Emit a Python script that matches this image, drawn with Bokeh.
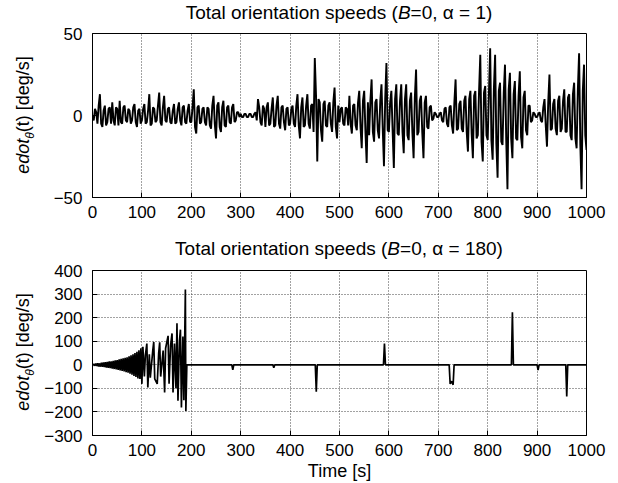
from bokeh.plotting import figure
from bokeh.layouts import column, row
from bokeh.models import Range1d, FixedTicker, Div
from bokeh.embed import file_html
from bokeh.resources import INLINE

FONT = "Liberation Sans"

x_ticks = [0, 100, 200, 300, 400, 500, 600, 700, 800, 900, 1000]
top_y_ticks = [-50, 0, 50]
bot_y_ticks = [-300, -200, -100, 0, 100, 200, 300, 400]
top_title_html = "Total orientation speeds (<i>B</i>=0, \u03b1 = 1)"
bot_title_html = "Total orientation speeds (<i>B</i>=0, \u03b1 = 180)"
x_label = "Time [s]"
y_label_html = '<i>edot</i><sub style="font-size:12px;font-style:italic;">\u03b8</sub>(t) [deg/s]'

# top series: values at t = 0, 5, 10, ... (top_v) and t = 2.5, 7.5, ... (top_v_mid)
top_v = (
    [0, 4, -5, 13, -7, 6, -4, 5, 8, -6, 4, 9, -5, 6, -4, 3, -3, 7, -7, 4]
    + [-3, 7, -4, 13, -5, 4, -3, 14, -6, 12, -4, 5, -5, 7, -4, 8, -6, 6, -5, 7]
    + [-4, 16, -11, 6, -4, 5, -6, 4, -8, 12, -14, 8, -10, 9, -7, 6, -5, 7, -3, 2]
    + [1, -1, 1, -1, 1, -1, 2, 10, -4, 6, -7, 8, -5, 11, -6, 12, -8, 6, -9, 5]
    + [-5, 6, -7, 13, -14, 11, -6, 13, -8, 7, 35, -28, 8, -16, 9, -7, 8, -10, 17, -14]
    + [-4, 5, -6, 4, 12, -11, 7, -9, 15, -20, 15, -29, -12, 22, -16, 10, -14, 19, -31, 32]
    + [-10, 15, -32, 19, -12, 19, -23, 19, -15, 14, -26, 28, -10, 12, -26, 12, -8, 6, -2, 1]
    + [-1, 2, -4, 5, -7, 6, -11, 22, -8, 9, -10, 12, -22, 15, -26, 15, -12, 37, -28, 18]
    + [-15, 41, -27, 37, -38, 20, -18, 31, -45, 26, -26, 21, -15, 27, -20, 15, -12, 6, -3, 1]
    + [-1, 2, -4, 10, -19, 25, -8, 10, -12, 12, -8, 16, -10, 13, -15, 20, -20, 38, -45, 31, -21]
)
top_v_mid = (
    [-3, 2, 6, -5, 3, -6, 4, -5, -3, 5, -6, -4, 5, -3, 4, -5, 5, -4, 3, -5]
    + [4, -5, 3, -6, 5, -4, 6, -4, 5, -3, 4, -4, 3, -5, 4, -3, 5, -4, 3, -4]
    + [5, -7, 5, -5, 4, -4, 5, -6, 6, -5, 6, -7, 5, -6, 5, -4, 5, -4, 2, -1]
    + [-1, 1, -1, 1, -1, 1, -3, 5, -6, 4, 5, -6, 4, -7, 6, -5, 5, -4, 4, -6]
    + [4, -5, 6, -6, 5, -7, 6, -5, 6, -10, 12, 10, -9, 7, -6, 6, -5, 8, -7, 6]
    + [4, -5, 5, -6, -5, 6, -6, 8, -7, 9, -10, 8, 9, -10, 8, -9, 9, -8, 10, -9]
    + [8, -9, 10, -11, 9, -10, 10, -12, 9, -10, 11, -12, 9, -10, 8, -7, 5, -3, 2, -1]
    + [1, -3, 4, -5, 5, -6, 8, -9, 7, -8, 9, -10, 10, -11, 12, -14, 15, -16, 14, -12]
    + [14, -15, 16, -17, 15, -16, 14, -15, 16, -14, 13, -14, 12, -13, 11, -9, 6, -4, 2, -1]
    + [1, -3, 5, -6, 8, -9, 7, -8, 9, -10, 9, -10, 11, -12, 13, -14, 16, -18, 15, -12]
)

# bottom series: growing oscillation (every 2 s up to 98 s), then spikes
bot_t_osc = list(range(0, 100, 2))
bot_v_osc = [0, 3, -4, 5, -5, 6, -7, 6, -8, 9, -9, 10, -10, 11, -12, 12, -13, 14, -14, 15,
             -16, 17, -18, 19, -20, 20, -22, 23, -24, 25, -26, 27, -28, 30, -31, 32, -34, 36,
             -38, 40, -42, 45, -47, 50, -52, 55, -58, 62, -60, 70]
bot_t_rest = [100, 102, 105, 107, 110, 112, 115, 117, 122, 124, 126, 131, 134, 136, 138,
              143, 146, 148, 153, 155, 158, 161, 163, 166, 169, 171, 173, 176, 178, 180,
              183, 185, 188, 189, 191,
              200, 282, 284, 286, 365, 367, 369, 451, 453, 455, 589, 591, 593,
              722, 724, 727, 730, 732, 848, 850, 852, 900, 902, 904, 958, 960, 962, 1000]
bot_v_rest = [-81, 76, -50, 40, 90, -96, 45, -55, 60, 97, -60, -81, 50, 95, -50,
              60, -117, 70, 123, -80, 80, 133, -117, 90, -100, 176, -153, 100, 149, -181,
              120, -150, 319, -196, 0,
              0, 0, -21, 0, 0, -12, 0, 0, -114, 0, 0, 90, 0,
              0, -81, -70, -85, 0, 0, 223, 0, 0, -23, 0, 0, -134, 0, 0]

# merge the two interleaved top samplings
top_t, top_y = [], []
for k, v in enumerate(top_v):
    top_t.append(5 * k)
    top_y.append(v)
    if k < len(top_v_mid):
        top_t.append(5 * k + 2.5)
        top_y.append(top_v_mid[k])

bot_t = bot_t_osc + bot_t_rest
bot_v = bot_v_osc + bot_v_rest

W = 618
LABEL_W = 40
FRAME_CX = 339  # page x of the frame centre


def make_fig(y0, y1, yticks, h, btop, bbot, ygrid):
    p = figure(width=W - LABEL_W, height=h, output_backend="svg", toolbar_location=None,
               x_range=Range1d(0, 1000), y_range=Range1d(y0, y1), title=None,
               min_border_left=92 - LABEL_W, min_border_right=32,
               min_border_top=btop, min_border_bottom=bbot)
    p.outline_line_color = "black"
    p.outline_line_width = 1
    for ax in (p.xaxis[0], p.yaxis[0]):
        ax.major_label_text_font = FONT
        ax.major_label_text_font_size = "17px"
        ax.major_label_text_color = "black"
        ax.major_tick_in = 5
        ax.major_tick_out = 0
        ax.minor_tick_line_color = None
        ax.axis_line_color = "black"
    p.xaxis[0].major_label_standoff = 8
    p.yaxis[0].major_label_standoff = 10
    p.xaxis[0].ticker = FixedTicker(ticks=x_ticks)
    p.yaxis[0].ticker = FixedTicker(ticks=yticks)
    p.xgrid.ticker = FixedTicker(ticks=x_ticks)
    p.xgrid.grid_line_color = "#444444"
    p.xgrid.grid_line_dash = "1 2"
    p.xgrid.grid_line_width = 1
    if ygrid:
        p.ygrid.ticker = FixedTicker(ticks=yticks)
        p.ygrid.grid_line_color = "#444444"
        p.ygrid.grid_line_dash = "1 2"
        p.ygrid.grid_line_width = 1
    else:
        p.ygrid.grid_line_color = None
    return p


def make_title_div(h, cy, html_text):
    html = (
        f'<div style="position:relative;width:{W}px;height:{h}px;">'
        f'<span style="position:absolute;left:{FRAME_CX}px;top:{cy}px;'
        'transform:translate(-50%,-50%);white-space:nowrap;'
        "font-family:'Liberation Sans',Arial,sans-serif;font-size:19px;color:black;"
        f'line-height:1.2;">{html_text}</span></div>'
    )
    return Div(text=html, width=W, height=h, margin=0)


def make_label_div(h, cy):
    html = (
        f'<div style="position:relative;width:{LABEL_W}px;height:{h}px;overflow:visible;">'
        f'<span style="position:absolute;left:25px;top:{cy}px;'
        'transform:translate(-50%,-50%) rotate(-90deg);white-space:nowrap;'
        "font-family:'Liberation Sans',Arial,sans-serif;font-size:18px;color:black;"
        f'line-height:1.2;">{y_label_html}</span></div>'
    )
    return Div(text=html, width=LABEL_W, height=h, margin=0)


# top panel: page rows 0-23 title, 23-232 plot (frame 33-197)
t1 = make_title_div(23, 12.5, top_title_html)
p1 = make_fig(-50, 50, top_y_ticks, 209, 10, 35, False)
p1.line(top_t, top_y, line_color="black", line_width=1.9)
d1 = make_label_div(209, 115 - 23)

# bottom panel: page rows 232-260 title, 260-483 plot (frame 270-435)
t2 = make_title_div(28, 17, bot_title_html)
p2 = make_fig(-300, 400, bot_y_ticks, 223, 10, 48, True)
p2.line(bot_t, bot_v, line_color="black", line_width=1.7)
p2.xaxis[0].axis_label = x_label
p2.xaxis[0].axis_label_text_font = FONT
p2.xaxis[0].axis_label_text_font_size = "18px"
p2.xaxis[0].axis_label_text_font_style = "normal"
p2.xaxis[0].axis_label_text_color = "black"
p2.xaxis[0].axis_label_standoff = 2
d2 = make_label_div(223, 352 - 260)

layout = column(t1, row(d1, p1, spacing=0), t2, row(d2, p2, spacing=0), spacing=0)
open("out.html", "w").write(file_html(layout, INLINE))
